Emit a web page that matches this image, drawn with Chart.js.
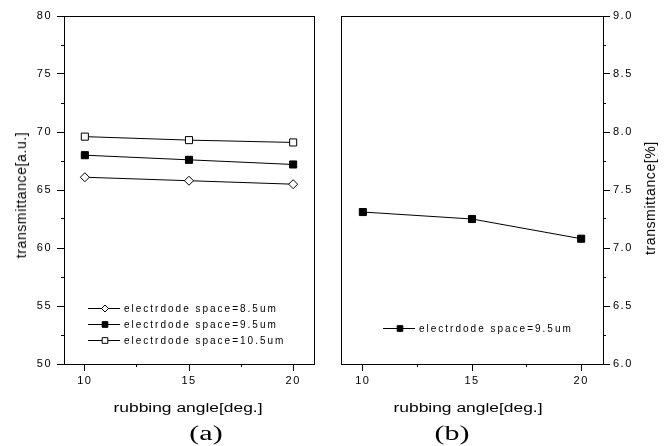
<!DOCTYPE html>
<html>
<head>
<meta charset="utf-8">
<script src="https://cdn.jsdelivr.net/npm/chart.js@4/dist/chart.umd.min.js"></script>
<style>
  html, body { margin: 0; padding: 0; background: #fff; }
  #wrap { position: relative; width: 671px; height: 446px; overflow: hidden; font-family: "Liberation Sans", Arial, sans-serif; color: #000; }
  canvas { position: absolute; top: 0; }
  #chartA { left: 0; }
  #chartB { left: 335px; }
  .lbl { position: absolute; white-space: nowrap; line-height: 1; }
  .xt { font-size: 12px; transform: translate(-50%, -50%) scaleX(1.45); }
  .yt { font-size: 14px; letter-spacing: 0.6px; transform: translate(-50%, -50%) rotate(-90deg); }
  .pn { font-family: "Liberation Serif", "Times New Roman", serif; font-size: 20px; transform: translate(-50%, -50%) scaleX(1.5); }
</style>
</head>
<body>
<div id="wrap">
  <canvas id="chartA" width="335" height="446"></canvas>
  <canvas id="chartB" width="336" height="446"></canvas>
  <div class="lbl yt" style="left:21px; top:195px;">transmittance[a.u.]</div>
  <div class="lbl yt" style="left:650px; top:198px;">transmittance[%]</div>
  <div class="lbl xt" style="left:188px; top:408px;">rubbing angle[deg.]</div>
  <div class="lbl xt" style="left:468px; top:408px;">rubbing angle[deg.]</div>
  <div class="lbl pn" style="left:206px; top:433px;">(a)</div>
  <div class="lbl pn" style="left:452px; top:433px;">(b)</div>
</div>
<script>
// values
const angles = [10, 15, 20];
const space85 = [66.1, 65.8, 65.5];
const space95 = [68.0, 67.6, 67.2];
const space105 = [69.6, 69.3, 69.1];
const space95Pct = [7.31, 7.25, 7.08];

const seriesLabels = ['electrdode space=8.5um', 'electrdode space=9.5um', 'electrdode space=10.5um'];

const xRange = [9, 21];
const leftRange = [50, 80];
const rightRange = [6.0, 9.0];

Chart.defaults.font.family = "'Liberation Sans', Arial, sans-serif";
Chart.defaults.font.size = 11;
Chart.defaults.color = '#000';

function pts(ys) {
  return angles.map((a, i) => ({ x: a, y: ys[i] }));
}

function align(px) {
  return Math.round(px - 0.5) + 0.5;
}

// text in the original is widely spaced
const spacing = {
  id: 'spacing',
  beforeDraw(chart) {
    chart.ctx.letterSpacing = '1.5px';
  }
};

// closed box around the plot area
const frame = {
  id: 'frame',
  afterDraw(chart) {
    const { ctx, chartArea: a } = chart;
    ctx.save();
    ctx.strokeStyle = '#000';
    ctx.lineWidth = 1;
    const l = align(a.left), r = align(a.right), t = align(a.top), b = align(a.bottom);
    ctx.strokeRect(l, t, r - l, b - t);
    ctx.restore();
  }
};

// short minor ticks halfway between the labelled ones
const minorTicks = {
  id: 'minorTicks',
  afterDraw(chart) {
    const ctx = chart.ctx;
    ctx.save();
    ctx.strokeStyle = '#000';
    ctx.lineWidth = 1;
    ctx.beginPath();
    Object.values(chart.scales).forEach((s) => {
      const step = s.options.ticks.stepSize / 2;
      const k0 = Math.ceil(s.min / step - 1e-9);
      const k1 = Math.floor(s.max / step + 1e-9);
      for (let k = k0; k <= k1; k++) {
        if (k % 2 === 0) continue;
        const p = align(s.getPixelForValue(k * step));
        if (s.position === 'bottom') {
          ctx.moveTo(p, s.top); ctx.lineTo(p, s.top + 3);
        } else if (s.position === 'left') {
          ctx.moveTo(s.right, p); ctx.lineTo(s.right - 3, p);
        } else {
          ctx.moveTo(s.left, p); ctx.lineTo(s.left + 3, p);
        }
      }
    });
    ctx.stroke();
    ctx.restore();
  }
};

// legend drawn inside the plot, lower left
const innerLegend = {
  id: 'innerLegend',
  afterDraw(chart, args, opts) {
    const { ctx, chartArea: a } = chart;
    ctx.save();
    ctx.letterSpacing = '2px';
    ctx.font = "10px 'Liberation Sans', Arial, sans-serif";
    ctx.textBaseline = 'middle';
    ctx.fillStyle = '#000';
    chart.data.datasets.forEach((ds, i) => {
      const x0 = a.left + opts.x;
      const y = align(a.bottom - opts.y + i * 16);
      ctx.strokeStyle = '#000';
      ctx.lineWidth = 1;
      ctx.beginPath();
      ctx.moveTo(x0, y);
      ctx.lineTo(x0 + 32, y);
      ctx.stroke();
      ctx.fillStyle = ds.pointBackgroundColor;
      ctx.strokeStyle = ds.pointBorderColor;
      Chart.helpers.drawPoint(ctx, {
        pointStyle: ds.pointStyle,
        radius: ds.pointStyle === 'rectRot' ? 3.5 : 4,
        borderWidth: 1,
        rotation: 0
      }, x0 + 17, y);
      ctx.fillStyle = '#000';
      ctx.fillText(ds.label, x0 + 36, y + 0.5);
    });
    ctx.restore();
  }
};

function xScale() {
  return {
    type: 'linear',
    min: xRange[0],
    max: xRange[1],
    border: { color: '#000', width: 1 },
    grid: { drawOnChartArea: false, color: '#000', tickColor: '#000', tickLength: 7 },
    ticks: { stepSize: 5, includeBounds: false, padding: 3, maxRotation: 0 },
    afterFit(s) { s.height = 82; }
  };
}

function lineSet(label, ys, style, fill, radius) {
  return {
    label: label,
    data: pts(ys),
    borderColor: '#000',
    borderWidth: 1,
    pointStyle: style,
    pointRadius: radius,
    pointBorderWidth: 1,
    pointBorderColor: '#000',
    pointBackgroundColor: fill,
    tension: 0
  };
}

new Chart(document.getElementById('chartA'), {
  type: 'line',
  data: {
    datasets: [
      lineSet(seriesLabels[0], space85, 'rectRot', '#fff', 4.5),
      lineSet(seriesLabels[1], space95, 'rect', '#000', 5),
      lineSet(seriesLabels[2], space105, 'rect', '#fff', 5)
    ]
  },
  options: {
    responsive: false,
    animation: false,
    layout: { padding: { left: 0, top: 16, right: 21, bottom: 0 } },
    plugins: {
      legend: { display: false },
      tooltip: { enabled: false },
      innerLegend: { x: 24, y: 56 }
    },
    scales: {
      x: xScale(),
      y: {
        type: 'linear',
        position: 'left',
        min: leftRange[0],
        max: leftRange[1],
        border: { color: '#000', width: 1 },
        grid: { drawOnChartArea: false, color: '#000', tickColor: '#000', tickLength: 7 },
        ticks: { stepSize: 5, padding: 5 },
        afterFit(s) { s.width = 64; }
      }
    }
  },
  plugins: [spacing, frame, minorTicks, innerLegend]
});

new Chart(document.getElementById('chartB'), {
  type: 'line',
  data: {
    datasets: [
      lineSet(seriesLabels[1], space95Pct, 'rect', '#000', 5)
    ]
  },
  options: {
    responsive: false,
    animation: false,
    layout: { padding: { left: 3, top: 16, right: 0, bottom: 0 } },
    plugins: {
      legend: { display: false },
      tooltip: { enabled: false },
      innerLegend: { x: 42, y: 36 }
    },
    scales: {
      x: xScale(),
      y: {
        type: 'linear',
        position: 'right',
        min: rightRange[0],
        max: rightRange[1],
        border: { color: '#000', width: 1 },
        grid: { drawOnChartArea: false, color: '#000', tickColor: '#000', tickLength: 7 },
        ticks: { stepSize: 0.5, padding: 3, callback: (v) => v.toFixed(1) },
        afterFit(s) { s.width = 68; }
      }
    }
  },
  plugins: [spacing, frame, minorTicks, innerLegend]
});
</script>
</body>
</html>
